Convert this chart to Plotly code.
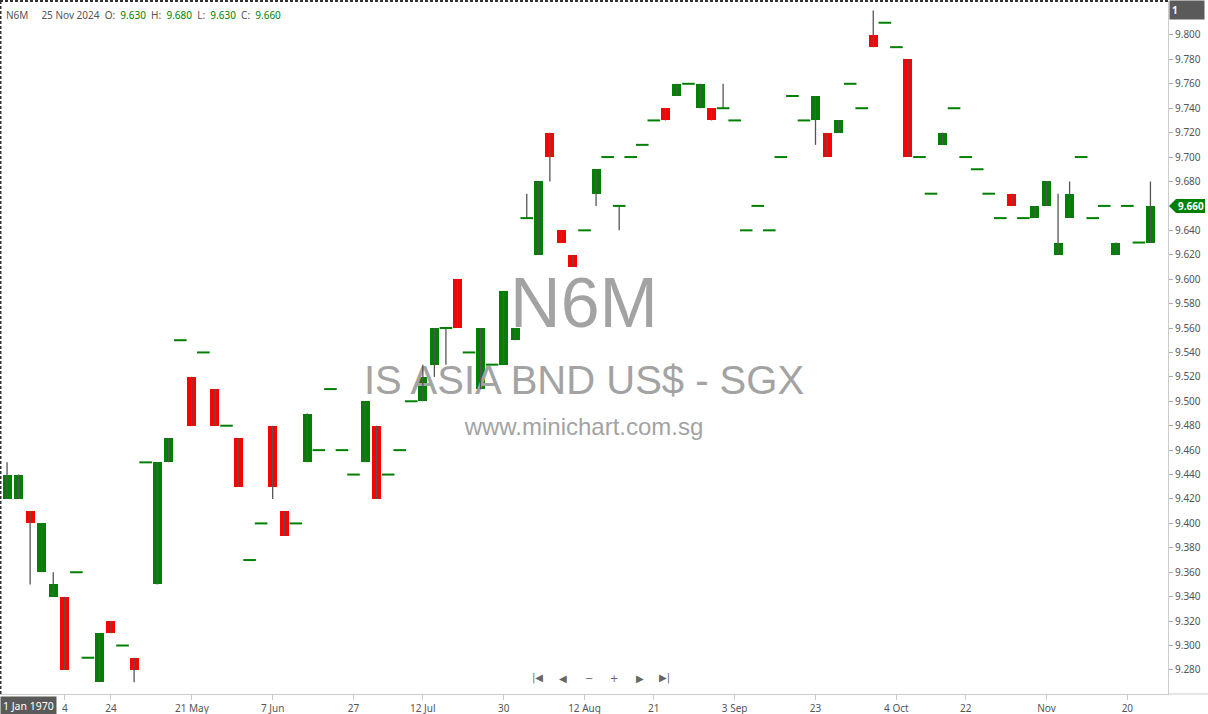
import datetime
import plotly.graph_objects as go

# ---------------- data ----------------
symbol = "N6M"
title = "IS ASIA BND US$ - SGX"
site = "www.minichart.com.sg"

dates = [
    "2024-03-22", "2024-03-25", "2024-03-27", "2024-04-01", "2024-04-02",
    "2024-04-04", "2024-04-09", "2024-04-15", "2024-04-19", "2024-04-24",
    "2024-04-26", "2024-04-30", "2024-05-03", "2024-05-08", "2024-05-10",
    "2024-05-15", "2024-05-21", "2024-05-23", "2024-05-27", "2024-05-29",
    "2024-05-31", "2024-06-04", "2024-06-05", "2024-06-07", "2024-06-11",
    "2024-06-13", "2024-06-18", "2024-06-20", "2024-06-24", "2024-06-25",
    "2024-06-27", "2024-07-01", "2024-07-03", "2024-07-05", "2024-07-09",
    "2024-07-10", "2024-07-12", "2024-07-16", "2024-07-18", "2024-07-22",
    "2024-07-24", "2024-07-25", "2024-07-29", "2024-07-30", "2024-08-01",
    "2024-08-02", "2024-08-05", "2024-08-06", "2024-08-07", "2024-08-08",
    "2024-08-12", "2024-08-13", "2024-08-14", "2024-08-15", "2024-08-16",
    "2024-08-20", "2024-08-21", "2024-08-22", "2024-08-26", "2024-08-27",
    "2024-08-28", "2024-08-29", "2024-08-30", "2024-09-03", "2024-09-05",
    "2024-09-09", "2024-09-11", "2024-09-13", "2024-09-17", "2024-09-19",
    "2024-09-23", "2024-09-24", "2024-09-25", "2024-09-26", "2024-09-30",
    "2024-10-01", "2024-10-02", "2024-10-04", "2024-10-07", "2024-10-09",
    "2024-10-11", "2024-10-15", "2024-10-17", "2024-10-22", "2024-10-23",
    "2024-10-24", "2024-10-25", "2024-10-28", "2024-10-29", "2024-10-30",
    "2024-11-01", "2024-11-04", "2024-11-05", "2024-11-07", "2024-11-11",
    "2024-11-13", "2024-11-15", "2024-11-20", "2024-11-22", "2024-11-25",
]

opens = [
    9.42, 9.42, 9.41, 9.36, 9.34, 9.34, 9.36, 9.29, 9.27, 9.32,
    9.30, 9.29, 9.45, 9.35, 9.45, 9.55, 9.52, 9.54, 9.51, 9.48,
    9.47, 9.37, 9.40, 9.48, 9.41, 9.40, 9.45, 9.46, 9.51, 9.46,
    9.44, 9.45, 9.48, 9.44, 9.46, 9.50, 9.50, 9.53, 9.56, 9.60,
    9.54, 9.51, 9.53, 9.53, 9.55, 9.65, 9.62, 9.72, 9.64, 9.62,
    9.64, 9.67, 9.70, 9.66, 9.70, 9.71, 9.73, 9.74, 9.75, 9.76,
    9.74, 9.74, 9.74, 9.73, 9.64, 9.66, 9.64, 9.70, 9.75, 9.73,
    9.73, 9.72, 9.72, 9.76, 9.74, 9.80, 9.81, 9.79, 9.78, 9.70,
    9.67, 9.71, 9.74, 9.70, 9.69, 9.67, 9.65, 9.67, 9.65, 9.65,
    9.66, 9.62, 9.65, 9.70, 9.65, 9.66, 9.62, 9.66, 9.63, 9.63,
]
highs = [
    9.45, 9.44, 9.41, 9.40, 9.36, 9.34, 9.36, 9.29, 9.31, 9.32,
    9.30, 9.29, 9.45, 9.45, 9.47, 9.55, 9.52, 9.54, 9.51, 9.48,
    9.47, 9.37, 9.40, 9.48, 9.41, 9.40, 9.49, 9.46, 9.51, 9.46,
    9.44, 9.50, 9.48, 9.44, 9.46, 9.50, 9.53, 9.56, 9.56, 9.60,
    9.54, 9.56, 9.53, 9.59, 9.56, 9.67, 9.68, 9.72, 9.64, 9.62,
    9.64, 9.69, 9.70, 9.66, 9.70, 9.71, 9.73, 9.74, 9.76, 9.76,
    9.76, 9.74, 9.76, 9.73, 9.64, 9.66, 9.64, 9.70, 9.75, 9.73,
    9.75, 9.72, 9.73, 9.76, 9.74, 9.82, 9.81, 9.79, 9.78, 9.70,
    9.67, 9.72, 9.74, 9.70, 9.69, 9.67, 9.65, 9.67, 9.65, 9.66,
    9.68, 9.67, 9.68, 9.70, 9.65, 9.66, 9.63, 9.66, 9.63, 9.68,
]
lows = [
    9.42, 9.42, 9.35, 9.36, 9.34, 9.28, 9.36, 9.29, 9.27, 9.31,
    9.30, 9.27, 9.45, 9.35, 9.45, 9.55, 9.48, 9.54, 9.48, 9.48,
    9.43, 9.37, 9.40, 9.42, 9.39, 9.40, 9.45, 9.46, 9.51, 9.46,
    9.44, 9.45, 9.42, 9.44, 9.46, 9.50, 9.50, 9.52, 9.53, 9.56,
    9.54, 9.51, 9.53, 9.53, 9.55, 9.65, 9.62, 9.68, 9.63, 9.61,
    9.64, 9.66, 9.70, 9.64, 9.70, 9.71, 9.73, 9.73, 9.75, 9.76,
    9.74, 9.73, 9.74, 9.73, 9.64, 9.66, 9.64, 9.70, 9.75, 9.73,
    9.71, 9.70, 9.72, 9.76, 9.74, 9.79, 9.81, 9.79, 9.70, 9.70,
    9.67, 9.71, 9.74, 9.70, 9.69, 9.67, 9.65, 9.66, 9.65, 9.65,
    9.66, 9.62, 9.65, 9.70, 9.65, 9.66, 9.62, 9.66, 9.63, 9.63,
]
closes = [
    9.44, 9.44, 9.40, 9.40, 9.35, 9.28, 9.36, 9.29, 9.31, 9.31,
    9.30, 9.28, 9.45, 9.45, 9.47, 9.55, 9.48, 9.54, 9.48, 9.48,
    9.43, 9.37, 9.40, 9.43, 9.39, 9.40, 9.49, 9.46, 9.51, 9.46,
    9.44, 9.50, 9.42, 9.44, 9.46, 9.50, 9.52, 9.56, 9.56, 9.56,
    9.54, 9.56, 9.53, 9.59, 9.56, 9.65, 9.68, 9.70, 9.63, 9.61,
    9.64, 9.69, 9.70, 9.66, 9.70, 9.71, 9.73, 9.73, 9.76, 9.76,
    9.76, 9.73, 9.74, 9.73, 9.64, 9.66, 9.64, 9.70, 9.75, 9.73,
    9.75, 9.70, 9.73, 9.76, 9.74, 9.79, 9.81, 9.79, 9.70, 9.70,
    9.67, 9.72, 9.74, 9.70, 9.69, 9.67, 9.65, 9.66, 9.65, 9.66,
    9.68, 9.63, 9.67, 9.70, 9.65, 9.66, 9.63, 9.66, 9.63, 9.66,
]

tick_dates = ["2024-04-04", "2024-04-24", "2024-05-21", "2024-06-07", "2024-06-27",
              "2024-07-12", "2024-07-30", "2024-08-12", "2024-08-21", "2024-09-03",
              "2024-09-23", "2024-10-04", "2024-10-22", "2024-11-01", "2024-11-20"]
tick_text = ["4", "24", "21 May", "7 Jun", "27", "12 Jul", "30", "12 Aug", "21",
             "3 Sep", "23", "4 Oct", "22", "Nov", "20"]

# price-scale ticks (9.660 sits under the last-price tag)
y_ticks = [9.28, 9.30, 9.32, 9.34, 9.36, 9.38, 9.40, 9.42, 9.44, 9.46, 9.48,
           9.50, 9.52, 9.54, 9.56, 9.58, 9.60, 9.62, 9.64, 9.68, 9.70,
           9.72, 9.74, 9.76, 9.78, 9.80]

# ---------------- styling ----------------
GREEN = "#008000"
RED = "#ff0000"
WICK = "#555555"
AXIS = "#cccccc"
TXT = "#555555"
SMALL_FONT = "Noto Sans"
X_RANGE = [-0.61, 100.52]
Y_RANGE = [9.2603, 9.8278]

xs = list(range(len(dates)))

fig = go.Figure()

# watermark (drawn first so candles sit on top)
cx = (X_RANGE[0] + X_RANGE[1]) / 2
def yfrac(f):
    return Y_RANGE[0] + f * (Y_RANGE[1] - Y_RANGE[0])
fig.add_trace(go.Scatter(
    x=[cx, cx, cx], y=[yfrac(0.555), yfrac(0.447), yfrac(0.382)],
    mode="text", text=[symbol, title, site],
    textfont=dict(family="Liberation Sans", size=[70, 40, 24], color="#a3a3a3"),
    hoverinfo="skip", showlegend=False))

# wicks
wx, wy = [], []
for i, h, l in zip(xs, highs, lows):
    wx += [i, i, None]
    wy += [l, h, None]
fig.add_trace(go.Scatter(x=wx, y=wy, mode="lines",
                         line=dict(color=WICK, width=1.3),
                         hoverinfo="skip", showlegend=False))

# bodies
bx, bbase, bh, bcol = [], [], [], []
dx, dy = [], []
for i, o, c in zip(xs, opens, closes):
    if abs(c - o) < 1e-9:
        dx.append(i)
        dy.append(c)
    else:
        bx.append(i)
        bbase.append(min(o, c))
        bh.append(abs(c - o))
        bcol.append(GREEN if c > o else RED)

fig.add_trace(go.Bar(x=bx, y=bh, base=bbase, width=0.78,
                     marker=dict(color=bcol, line=dict(width=0)),
                     hoverinfo="skip", showlegend=False))
fig.add_trace(go.Scatter(x=dx, y=dy, mode="markers",
                         marker=dict(symbol="line-ew", size=9,
                                     line=dict(width=2, color=GREEN)),
                         hoverinfo="skip", showlegend=False))

tickvals = [dates.index(d) for d in tick_dates]

fig.update_layout(
    width=1208, height=714,
    margin=dict(l=0, r=40, t=1, b=20),
    paper_bgcolor="white", plot_bgcolor="white",
    showlegend=False,
    bargap=0,
    xaxis=dict(range=X_RANGE, tickvals=tickvals, ticktext=tick_text,
               showgrid=False, zeroline=False, showline=True,
               linecolor=AXIS, linewidth=1, ticks="outside", ticklen=5,
               tickcolor=AXIS, tickfont=dict(family=SMALL_FONT, size=10, color=TXT)),
    yaxis=dict(range=Y_RANGE, side="right", tickvals=y_ticks,
               tickformat=".3f", showgrid=False, zeroline=False,
               showline=True, linecolor=AXIS, linewidth=1,
               ticks="outside", ticklen=4, tickcolor="#aaaaaa",
               tickfont=dict(family=SMALL_FONT, size=10, color=TXT)),
)

# header
last = len(dates) - 1
dlabel = datetime.date.fromisoformat(dates[last]).strftime("%-d %b %Y")
sp = "\u00a0"
def g(v):
    return f"<span style='color:{GREEN}'>{v:.3f}</span>"
header = (f"{symbol}{sp*5}{dlabel}{sp*2}O:{sp*2}{g(opens[last])}{sp*2}"
          f"H:{sp*2}{g(highs[last])}{sp*2}L:{sp*2}{g(lows[last])}{sp*2}"
          f"C:{sp*2}{g(closes[last])}")
annotations = [
    dict(text=header, xref="paper", yref="paper", x=0, y=1, xanchor="left",
         yanchor="top", xshift=4, yshift=-5, showarrow=False,
         font=dict(family=SMALL_FONT, size=10, color=TXT)),
    # last price
    dict(text=f"<b>{closes[last]:.3f}</b>", xref="paper", yref="y", x=1,
         y=closes[last], xanchor="left", yanchor="middle", xshift=8,
         showarrow=False, font=dict(family=SMALL_FONT, size=10, color="white")),
    # "1" tag
    dict(text="<b>1</b>", xref="paper", yref="paper", x=1, y=1, xanchor="left",
         yanchor="top", xshift=1, yshift=1, width=30, align="left",
         bgcolor="#5a5a5a", borderpad=2, showarrow=False,
         font=dict(family=SMALL_FONT, size=10, color="white")),
    # date crosshair tag
    dict(text="1 Jan 1970", xref="paper", yref="paper", x=0, y=0,
         xanchor="left", yanchor="top", yshift=-2, bgcolor="#5a5a5a",
         borderpad=2, showarrow=False,
         font=dict(family=SMALL_FONT, size=10.5, color="white")),
]
nav = ["|◀", "◀", "−", "+", "▶", "▶|"]
nav_x = [0.4598, 0.482, 0.5043, 0.5257, 0.5479, 0.5693]
for s, px in zip(nav, nav_x):
    annotations.append(dict(text=s, xref="paper", yref="paper", x=px, y=0.023,
                            xanchor="center", yanchor="middle", showarrow=False,
                            font=dict(family="DejaVu Sans", size=10, color="#666666")))
fig.update_layout(annotations=annotations)

shapes = [
    # price tag arrow
    dict(type="path", xref="paper", yref="y", xsizemode="pixel", ysizemode="pixel",
         xanchor=1, yanchor=closes[last],
         path="M 1,0 L 8,-7 L 37,-7 L 37,7 L 8,7 Z",
         fillcolor=GREEN, line=dict(width=0), layer="above"),
    # dashed focus border
    dict(type="line", xref="paper", yref="paper", x0=0, x1=1, y0=1, y1=1,
         line=dict(color="#333333", width=2, dash="3px,2px")),
    dict(type="line", xref="paper", yref="paper", x0=0, x1=0, y0=0, y1=1,
         line=dict(color="#333333", width=3, dash="3px,2px")),
    # x axis line extension under price scale
    dict(type="line", xref="paper", yref="paper", x0=1, x1=1.035, y0=0, y1=0,
         line=dict(color=AXIS, width=1)),
]
fig.update_layout(shapes=shapes)

fig.write_html("out.html", config={"displayModeBar": False},
               post_script="document.body.style.margin='0';document.body.style.overflow='hidden';")
